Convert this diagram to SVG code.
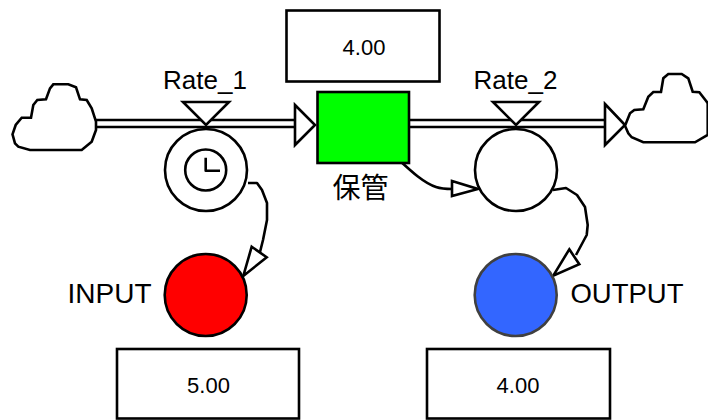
<svg xmlns="http://www.w3.org/2000/svg" width="708" height="420" viewBox="0 0 708 420">
<style>
.s{fill:#fff;stroke:#000;stroke-width:2.6}
.c{fill:none;stroke:#000;stroke-width:2.6;stroke-linejoin:round}
.h{fill:#fff;stroke:#000;stroke-width:2.6;stroke-linejoin:miter}
.l{font-family:"Liberation Sans","Noto Sans CJK JP",sans-serif;font-size:26px;fill:#000;text-anchor:middle}
.b{font-size:28px}
.v{font-family:"Liberation Sans",sans-serif;font-size:22px;fill:#000;text-anchor:middle}
</style>
<rect width="708" height="420" fill="#fff"/>
<g id="connectors">
<path class="c" d="M96 120H295M96 127H295"/>
<path class="c" d="M406 120H605M406 127H605"/>
<polygon class="h" points="295,105 315,125 295,145"/>
<polygon class="h" points="605,104 625,125 605,145"/>
<path class="c" d="M399 160C412 172 424 183 436 187C442 189 447 189 452 189"/>
<polygon class="h" points="452,181 478,189 452,196"/>
<path class="c" d="M248 183H257L262 190L267 203V220L263 240L260 252"/>
<polygon class="h" points="251.700,246.700 266.700,257.300 243.300,276"/>
<path class="c" d="M553 190L566 188L577 195L585 207L587.700 225L586.700 235L576 255"/>
<polygon class="h" points="569.300,249.300 579.300,264.300 553.300,275.700"/>
</g>
<g id="cloud-left"><path class="s" d="M12.500 134.300L15.700 125L21.700 117.700H31L33.300 105L37.300 100L46 99.300L50 88.300L53.300 84.300H68.300L76 87.300L80 99.300L86.700 100L91.700 108.300L96 121.700V130L91.700 141.700L81.700 150H30L18.300 146.700L15 143.300Z"/></g>
<g id="cloud-right"><path class="s" d="M625 125.700L630 113.300L634.300 110L643.300 109.300L648.300 96.700L653.300 92H661L663.300 78.300L668.300 74H681.700L688.300 78.300L692.700 91.700L699.300 92.300L706.700 101.700L707.700 103.300V135L695 142.300H643.300L631.700 137.300L628.300 133.300Z"/></g>
<g id="Rate_1">
<polygon class="h" points="183,102 229,102 206,125"/>
<circle class="s" cx="206" cy="170" r="41"/>
<circle class="s" cx="205.700" cy="170" r="20.500"/>
<path class="c" d="M205.700 157.700V170.700H220"/>
<text class="l" x="205" y="89">Rate_1</text>
</g>
<g id="Rate_2">
<polygon class="h" points="493,102 539,102 516,125"/>
<circle class="s" cx="516" cy="170" r="41"/>
<text class="l" x="515.500" y="89">Rate_2</text>
</g>
<g id="stock">
<rect x="317.500" y="92" width="91.500" height="71" fill="#00ff00" stroke="#000" stroke-width="2.600"/>
<text class="l b" x="360.500" y="198">保管</text>
</g>
<g id="INPUT">
<circle cx="205.700" cy="295" r="41" fill="#ff0000" stroke="#000" stroke-width="2.600"/>
<text class="l b" x="109.500" y="303">INPUT</text>
</g>
<g id="OUTPUT">
<circle cx="515.700" cy="295" r="41" fill="#3366ff" stroke="#404040" stroke-width="2.600"/>
<text class="l" x="627" y="303" style="font-size:27.500px">OUTPUT</text>
</g>
<g id="box-top"><rect class="s" x="286.500" y="10.500" width="153" height="71"/><text class="v" x="364" y="55">4.00</text></g>
<g id="box-input"><rect class="s" x="117" y="349" width="182" height="69.500"/><text class="v" x="208.500" y="393">5.00</text></g>
<g id="box-output"><rect class="s" x="427" y="349" width="183" height="69.500"/><text class="v" x="518" y="393">4.00</text></g>
</svg>
